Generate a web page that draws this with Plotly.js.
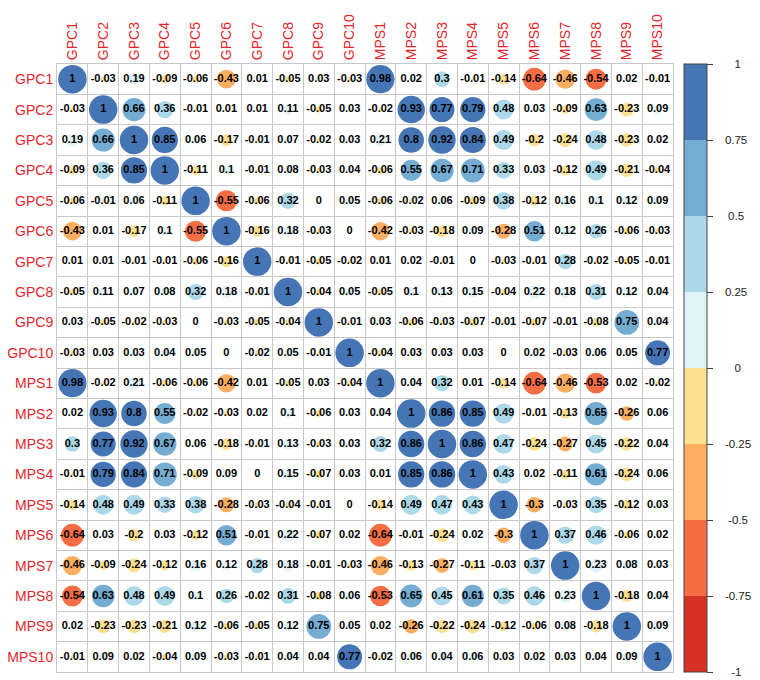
<!DOCTYPE html>
<html><head><meta charset="utf-8">
<script src="https://cdn.plot.ly/plotly-3.0.1.min.js"></script>
<style>html,body{margin:0;padding:0;background:#fff}#chart{width:760px;height:680px}</style>
</head><body><div id="chart"></div>
<script>
const labels = ['GPC1','GPC2','GPC3','GPC4','GPC5','GPC6','GPC7','GPC8','GPC9','GPC10',
                'MPS1','MPS2','MPS3','MPS4','MPS5','MPS6','MPS7','MPS8','MPS9','MPS10'];

const GPC1  = [1,-0.03,0.19,-0.09,-0.06,-0.43,0.01,-0.05,0.03,-0.03,0.98,0.02,0.3,-0.01,-0.14,-0.64,-0.46,-0.54,0.02,-0.01];
const GPC2  = [-0.03,1,0.66,0.36,-0.01,0.01,0.01,0.11,-0.05,0.03,-0.02,0.93,0.77,0.79,0.48,0.03,-0.09,0.63,-0.23,0.09];
const GPC3  = [0.19,0.66,1,0.85,0.06,-0.17,-0.01,0.07,-0.02,0.03,0.21,0.8,0.92,0.84,0.49,-0.2,-0.24,0.48,-0.23,0.02];
const GPC4  = [-0.09,0.36,0.85,1,-0.11,0.1,-0.01,0.08,-0.03,0.04,-0.06,0.55,0.67,0.71,0.33,0.03,-0.12,0.49,-0.21,-0.04];
const GPC5  = [-0.06,-0.01,0.06,-0.11,1,-0.55,-0.06,0.32,0,0.05,-0.06,-0.02,0.06,-0.09,0.38,-0.12,0.16,0.1,0.12,0.09];
const GPC6  = [-0.43,0.01,-0.17,0.1,-0.55,1,-0.16,0.18,-0.03,0,-0.42,-0.03,-0.18,0.09,-0.28,0.51,0.12,0.26,-0.06,-0.03];
const GPC7  = [0.01,0.01,-0.01,-0.01,-0.06,-0.16,1,-0.01,-0.05,-0.02,0.01,0.02,-0.01,0,-0.03,-0.01,0.28,-0.02,-0.05,-0.01];
const GPC8  = [-0.05,0.11,0.07,0.08,0.32,0.18,-0.01,1,-0.04,0.05,-0.05,0.1,0.13,0.15,-0.04,0.22,0.18,0.31,0.12,0.04];
const GPC9  = [0.03,-0.05,-0.02,-0.03,0,-0.03,-0.05,-0.04,1,-0.01,0.03,-0.06,-0.03,-0.07,-0.01,-0.07,-0.01,-0.08,0.75,0.04];
const GPC10 = [-0.03,0.03,0.03,0.04,0.05,0,-0.02,0.05,-0.01,1,-0.04,0.03,0.03,0.03,0,0.02,-0.03,0.06,0.05,0.77];
const MPS1  = [0.98,-0.02,0.21,-0.06,-0.06,-0.42,0.01,-0.05,0.03,-0.04,1,0.04,0.32,0.01,-0.14,-0.64,-0.46,-0.53,0.02,-0.02];
const MPS2  = [0.02,0.93,0.8,0.55,-0.02,-0.03,0.02,0.1,-0.06,0.03,0.04,1,0.86,0.85,0.49,-0.01,-0.13,0.65,-0.26,0.06];
const MPS3  = [0.3,0.77,0.92,0.67,0.06,-0.18,-0.01,0.13,-0.03,0.03,0.32,0.86,1,0.86,0.47,-0.24,-0.27,0.45,-0.22,0.04];
const MPS4  = [-0.01,0.79,0.84,0.71,-0.09,0.09,0,0.15,-0.07,0.03,0.01,0.85,0.86,1,0.43,0.02,-0.11,0.61,-0.24,0.06];
const MPS5  = [-0.14,0.48,0.49,0.33,0.38,-0.28,-0.03,-0.04,-0.01,0,-0.14,0.49,0.47,0.43,1,-0.3,-0.03,0.35,-0.12,0.03];
const MPS6  = [-0.64,0.03,-0.2,0.03,-0.12,0.51,-0.01,0.22,-0.07,0.02,-0.64,-0.01,-0.24,0.02,-0.3,1,0.37,0.46,-0.06,0.02];
const MPS7  = [-0.46,-0.09,-0.24,-0.12,0.16,0.12,0.28,0.18,-0.01,-0.03,-0.46,-0.13,-0.27,-0.11,-0.03,0.37,1,0.23,0.08,0.03];
const MPS8  = [-0.54,0.63,0.48,0.49,0.1,0.26,-0.02,0.31,-0.08,0.06,-0.53,0.65,0.45,0.61,0.35,0.46,0.23,1,-0.18,0.04];
const MPS9  = [0.02,-0.23,-0.23,-0.21,0.12,-0.06,-0.05,0.12,0.75,0.05,0.02,-0.26,-0.22,-0.24,-0.12,-0.06,0.08,-0.18,1,0.09];
const MPS10 = [-0.01,0.09,0.02,-0.04,0.09,-0.03,-0.01,0.04,0.04,0.77,-0.02,0.06,0.04,0.06,0.03,0.02,0.03,0.04,0.09,1];

const rows = [GPC1,GPC2,GPC3,GPC4,GPC5,GPC6,GPC7,GPC8,GPC9,GPC10,
              MPS1,MPS2,MPS3,MPS4,MPS5,MPS6,MPS7,MPS8,MPS9,MPS10];

const cbTickVals = [-1,-0.75,-0.5,-0.25,0,0.25,0.5,0.75,1];
const cbTickText = ['-1','-0.75','-0.5','-0.25','0','0.25','0.5','0.75','1'];
const palette = ['#D73027','#F46D43','#FDAE61','#FEE090','#E0F3F8','#ABD9E9','#74ADD1','#4575B4'];

// leading non-breaking spaces so the colour-bar labels look centred (style only)
const cbLabelPad = [5,3,4,3,6,3,4,3,6];
const cbTickShown = cbTickText.map((t,k) => '\u00a0'.repeat(cbLabelPad[k]) + t);

// discrete colour scale; a value exactly on a break falls into the lower bin
const eps = 1e-6;
const colorscale = [];
palette.forEach((c,k) => {
  colorscale.push([k === 0 ? 0 : k/8 + eps, c]);
  colorscale.push([(k+1)/8, c]);
});

const xs = [], ys = [], vals = [], sizes = [], texts = [];
rows.forEach((row, i) => row.forEach((v, j) => {
  xs.push(labels[j]); ys.push(labels[i]);
  vals.push(v); sizes.push(Math.abs(v)); texts.push(String(v));
}));

const FONT = 'Liberation Sans, Arial, sans-serif';
const GRID = '#c8c8c8';
const LABEL_RED = '#e3262b';

const trace = {
  type: 'scatter', mode: 'markers+text',
  x: xs, y: ys, text: texts, textposition: 'middle center',
  textfont: {family: FONT, size: 11, color: '#000', weight: 'bold'},
  hoverinfo: 'none', cliponaxis: false,
  marker: {
    size: sizes, sizemode: 'area', sizeref: 2/(28.5*28.5), sizemin: 0,
    opacity: 1, line: {width: 0},
    color: vals, cmin: -1, cmax: 1, colorscale: colorscale, showscale: true,
    colorbar: {
      thickness: 23, thicknessmode: 'pixels', len: 1, lenmode: 'fraction',
      x: 1.0177, xanchor: 'left', y: 0.5, yanchor: 'middle', xpad: 0, ypad: 0,
      outlinewidth: 1, outlinecolor: '#444',
      tickmode: 'array', tickvals: cbTickVals, ticktext: cbTickShown,
      ticks: 'outside', ticklen: 6, tickcolor: '#444',
      tickfont: {family: FONT, size: 11.5, color: '#222'}
    }
  }
};

const axisCommon = {
  type: 'category', categoryorder: 'array', categoryarray: labels,
  tickson: 'boundaries', showgrid: true, gridcolor: GRID, gridwidth: 1,
  ticks: '', showline: true, mirror: true, linecolor: GRID, linewidth: 1,
  zeroline: false, fixedrange: true,
  tickfont: {family: FONT, size: 14, color: LABEL_RED}
};

const layout = {
  width: 760, height: 680,
  margin: {l: 57, r: 81, t: 64, b: 8},
  paper_bgcolor: '#fff', plot_bgcolor: '#fff', showlegend: false,
  xaxis: Object.assign({}, axisCommon, {side: 'top', tickangle: -90, range: [-0.5, 19.5]}),
  yaxis: Object.assign({}, axisCommon, {range: [19.5, -0.5]})
};

Plotly.newPlot('chart', [trace], layout, {displayModeBar: false, staticPlot: true});
</script>
</body></html>
